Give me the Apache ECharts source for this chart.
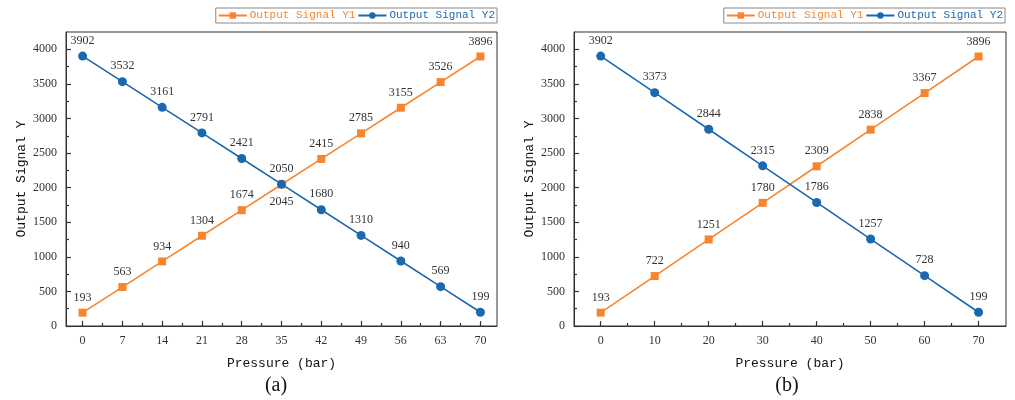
<!DOCTYPE html>
<html><head><meta charset="utf-8">
<script src="https://cdn.jsdelivr.net/npm/echarts@6/dist/echarts.min.js"></script>
<style>html,body{margin:0;padding:0;background:#fff}#c{width:1015px;height:400px}</style>
</head><body><div id="c"></div>
<script>
// ---- data ----
const pressureA = [0, 7, 14, 21, 28, 35, 42, 49, 56, 63, 70];
const y1A = [193, 563, 934, 1304, 1674, 2045, 2415, 2785, 3155, 3526, 3896];
const y2A = [3902, 3532, 3161, 2791, 2421, 2050, 1680, 1310, 940, 569, 199];
const pressureB = [0, 10, 20, 30, 40, 50, 60, 70];
const y1B = [193, 722, 1251, 1780, 2309, 2838, 3367, 3896];
const y2B = [3902, 3373, 2844, 2315, 1786, 1257, 728, 199];
const yTickLabels = [0, 500, 1000, 1500, 2000, 2500, 3000, 3500, 4000];
const yMinorTicks = [250, 750, 1250, 1750, 2250, 2750, 3250, 3750];
const xMinorA = [3.5, 10.5, 17.5, 24.5, 31.5, 38.5, 45.5, 52.5, 59.5, 66.5];
const xMinorB = [5, 15, 25, 35, 45, 55, 65];
const seriesNames = ['Output Signal Y1', 'Output Signal Y2'];
const panelLabels = ['(a)', '(b)'];
const xName = 'Pressure (bar)';
const yName = 'Output Signal Y';

// ---- styles ----
const ORANGE = '#F7852E', BLUE = '#1A68AE', AX = '#333';
const SERIF = '"Liberation Serif", "DejaVu Serif", serif';
const MONO = '"Liberation Mono", "DejaVu Sans Mono", monospace';

const chart = echarts.init(document.getElementById('c'), null, {renderer: 'canvas'});

const grids = [
  {left: 66, right: 518, top: 32, bottom: 74},
  {left: 574, right: 9, top: 32, bottom: 74}
];
const xRanges = [[-2.92, 72.92], [-4.95, 75.08]];
const xMajor = [pressureA, pressureB];
const xMinor = [xMinorA, xMinorB];
const plain = v => String(v);

const xAxis = [], yAxis = [];
grids.forEach((g, i) => {
  g.show = true; g.borderColor = AX; g.borderWidth = 1; g.backgroundColor = 'transparent';
  xAxis.push({
    type: 'value', gridIndex: i, position: 'bottom', min: xRanges[i][0], max: xRanges[i][1],
    name: xName, nameLocation: 'middle', nameGap: 31,
    nameTextStyle: {fontFamily: MONO, fontSize: 13, color: '#111'},
    axisLine: {show: true, onZero: false, lineStyle: {color: AX}},
    axisTick: {show: true, inside: true, length: 5, customValues: xMajor[i], lineStyle: {color: AX, width: 1.2}},
    axisLabel: {customValues: xMajor[i], formatter: plain, fontFamily: SERIF, fontSize: 12, color: '#333', margin: 9},
    splitLine: {show: false}
  });
  xAxis.push({
    type: 'value', gridIndex: i, position: 'bottom', min: xRanges[i][0], max: xRanges[i][1],
    axisLine: {show: false, onZero: false},
    axisTick: {show: true, inside: true, length: 3, customValues: xMinor[i], lineStyle: {color: AX, width: 1.2}},
    axisLabel: {show: false}, splitLine: {show: false}
  });
  yAxis.push({
    type: 'value', gridIndex: i, position: 'left', min: 0, max: 4250,
    name: yName, nameLocation: 'middle', nameGap: 38, nameRotate: 90,
    nameTextStyle: {fontFamily: MONO, fontSize: 13, color: '#111'},
    axisLine: {show: true, onZero: false, lineStyle: {color: AX}},
    axisTick: {show: true, inside: true, length: 5, customValues: yTickLabels, lineStyle: {color: AX, width: 1.2}},
    axisLabel: {customValues: yTickLabels, formatter: plain, fontFamily: SERIF, fontSize: 12, color: '#333', margin: 9},
    splitLine: {show: false}
  });
  yAxis.push({
    type: 'value', gridIndex: i, position: 'left', min: 0, max: 4250,
    axisLine: {show: false, onZero: false},
    axisTick: {show: true, inside: true, length: 3, customValues: yMinorTicks, lineStyle: {color: AX, width: 1.2}},
    axisLabel: {show: false}, splitLine: {show: false}
  });
});

const labelBase = {show: true, position: 'top', distance: 5, fontFamily: SERIF, fontSize: 12, color: '#333'};
function mkSeries(name, xs, ys, gi, color, symbol, size, belowIdx) {
  return {
    name, type: 'line', xAxisIndex: gi * 2, yAxisIndex: gi * 2,
    data: xs.map((x, k) => {
      const d = {value: [x, ys[k]]};
      if (belowIdx.includes(k)) d.label = {position: 'bottom', distance: 7};
      return d;
    }),
    symbol, symbolSize: size, showAllSymbol: true,
    lineStyle: {color, width: 1.6}, itemStyle: {color},
    label: labelBase, emphasis: {disabled: true}, animation: false, z: 3
  };
}

const series = [
  mkSeries(seriesNames[0], pressureA, y1A, 0, ORANGE, 'rect', 8, [5]),
  mkSeries(seriesNames[1], pressureA, y2A, 0, BLUE, 'circle', 9, []),
  mkSeries(seriesNames[0], pressureB, y1B, 1, ORANGE, 'rect', 8, []),
  mkSeries(seriesNames[1], pressureB, y2B, 1, BLUE, 'circle', 9, [])
];

const legendCommon = {
  top: 8, orient: 'horizontal', itemGap: 2, itemWidth: 28, itemHeight: 8,
  borderColor: '#888', borderWidth: 1, padding: [2, 2, 2, 2], selectedMode: false,
  data: [
    {name: seriesNames[0], textStyle: {color: ORANGE}},
    {name: seriesNames[1], textStyle: {color: BLUE}}
  ],
  textStyle: {fontFamily: MONO, fontSize: 11, padding: [0, 0, 0, -2]}
};

chart.setOption({
  backgroundColor: '#fff',
  animation: false,
  grid: grids,
  xAxis, yAxis, series,
  legend: [
    Object.assign({}, legendCommon, {right: 518}),
    Object.assign({}, legendCommon, {right: 10})
  ],
  graphic: [
    {type: 'text', x: 276, y: 386, style: {text: panelLabels[0], align: 'center', verticalAlign: 'middle', font: '20px ' + SERIF, fill: '#111'}},
    {type: 'text', x: 787, y: 386, style: {text: panelLabels[1], align: 'center', verticalAlign: 'middle', font: '20px ' + SERIF, fill: '#111'}}
  ]
});
</script></body></html>
